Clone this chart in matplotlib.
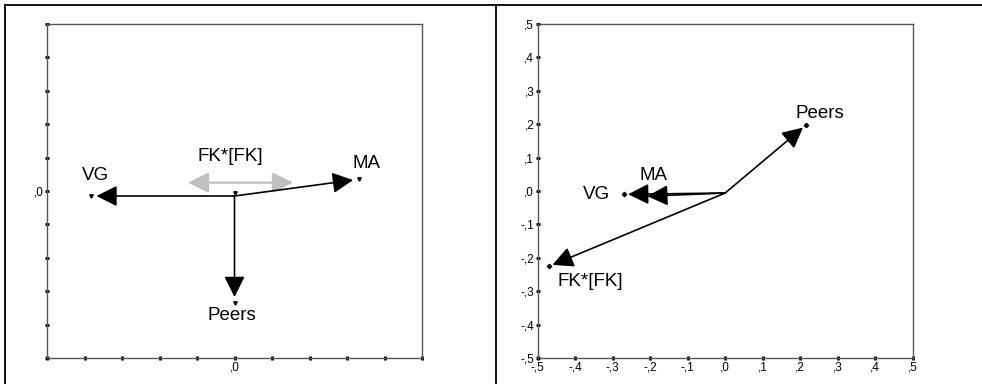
import matplotlib
matplotlib.use("Agg")
import matplotlib.pyplot as plt
from matplotlib.lines import Line2D

plt.rcParams['font.family'] = ['Liberation Sans', 'DejaVu Sans']

# left panel (vectors from the origin)
left_names = ["VG", "MA", "Peers", "FK*[FK]"]
left_x = [-0.383, 0.331, 0.0, 0.0]
left_y = [-0.015, 0.035, -0.334, -0.005]
left_origin = (0.0, -0.015)
left_label_xy = [(-0.37, 0.045), (0.352, 0.082), (-0.008, -0.372), (-0.01, 0.103)]
# grey double arrow around FK*[FK]
fk_span = [-0.124, 0.156]
fk_span_y = 0.025

# right panel
right_names = ["VG", "MA", "Peers", "FK*[FK]"]
right_x = [-0.27, -0.219, 0.216, -0.471]
right_y = [-0.01, -0.016, 0.198, -0.226]
right_origin = (0.0, -0.006)
right_label_xy = [(-0.343, -0.01), (-0.19, 0.045), (0.253, 0.233), (-0.36, -0.27)]

ticks = [-0.5, -0.4, -0.3, -0.2, -0.1, 0.0, 0.1, 0.2, 0.3, 0.4, 0.5]


def fmt(v):
    s = "%.1f" % v
    s = s.replace("0.", ",")
    return s


W, H = 982, 384
fig = plt.figure(figsize=(W / 100, H / 100), dpi=100)

# panel frame lines
fig.add_artist(Line2D([5 / W, 1], [1 - 5 / H, 1 - 5 / H], color="black", lw=1.3, transform=fig.transFigure))
fig.add_artist(Line2D([5 / W, 5 / W], [0, 1 - 5 / H], color="black", lw=1.3, transform=fig.transFigure))
fig.add_artist(Line2D([496 / W, 496 / W], [0, 1 - 5 / H], color="black", lw=1.3, transform=fig.transFigure))

ax1 = fig.add_axes([47 / W, 26 / H, 375 / W, 334 / H])
ax2 = fig.add_axes([537.7 / W, 26 / H, 375 / W, 334 / H])

head = "-|>,head_length=1.1,head_width=0.55"

for ax in (ax1, ax2):
    ax.set_xlim(-0.5, 0.5)
    ax.set_ylim(-0.5, 0.5)
    ax.set_xticks(ticks)
    ax.set_yticks(ticks)
    for sp in ax.spines.values():
        sp.set_color("#555555")
        sp.set_linewidth(1.0)
    ax.tick_params(direction="inout", length=3, width=2, color="black",
                   labelsize=8.5, pad=1, top=False, right=False)

# left
ax1.set_xticklabels([fmt(t) if t == 0 else "" for t in ticks])
ax1.set_yticklabels([fmt(t) if t == 0 else "" for t in ticks])
ax1.annotate("", xy=(fk_span[1], fk_span_y), xytext=(fk_span[0], fk_span_y),
             arrowprops=dict(arrowstyle="<|-|>,head_length=1.1,head_width=0.55",
                             color="#c0c0c0", lw=1.6, mutation_scale=11.5,
                             shrinkA=0, shrinkB=0))
for name, x, y, (lx, ly) in zip(left_names, left_x, left_y, left_label_xy):
    if name != "FK*[FK]":
        ax1.annotate("", xy=(x, y), xytext=left_origin,
                     arrowprops=dict(arrowstyle=head, color="black", lw=1.2,
                                     mutation_scale=11.5, shrinkA=0, shrinkB=4))
    ax1.plot(x, y, marker="v", color="black", ms=2.5, ls="none")
    ax1.text(lx, ly, name, fontsize=13.5, ha="center", va="center")

# right
ax2.set_xticklabels([fmt(t) for t in ticks])
ax2.set_yticklabels([fmt(t) for t in ticks])
for name, x, y, (lx, ly) in zip(right_names, right_x, right_y, right_label_xy):
    ax2.annotate("", xy=(x, y), xytext=right_origin,
                 arrowprops=dict(arrowstyle=head, color="black", lw=1.2,
                                 mutation_scale=11.5, shrinkA=0, shrinkB=3))
    ax2.plot(x, y, marker="D", color="black", ms=2.2, ls="none")
    ax2.text(lx, ly, name, fontsize=13.5, ha="center", va="center")

fig.savefig("out.png", dpi=100)
